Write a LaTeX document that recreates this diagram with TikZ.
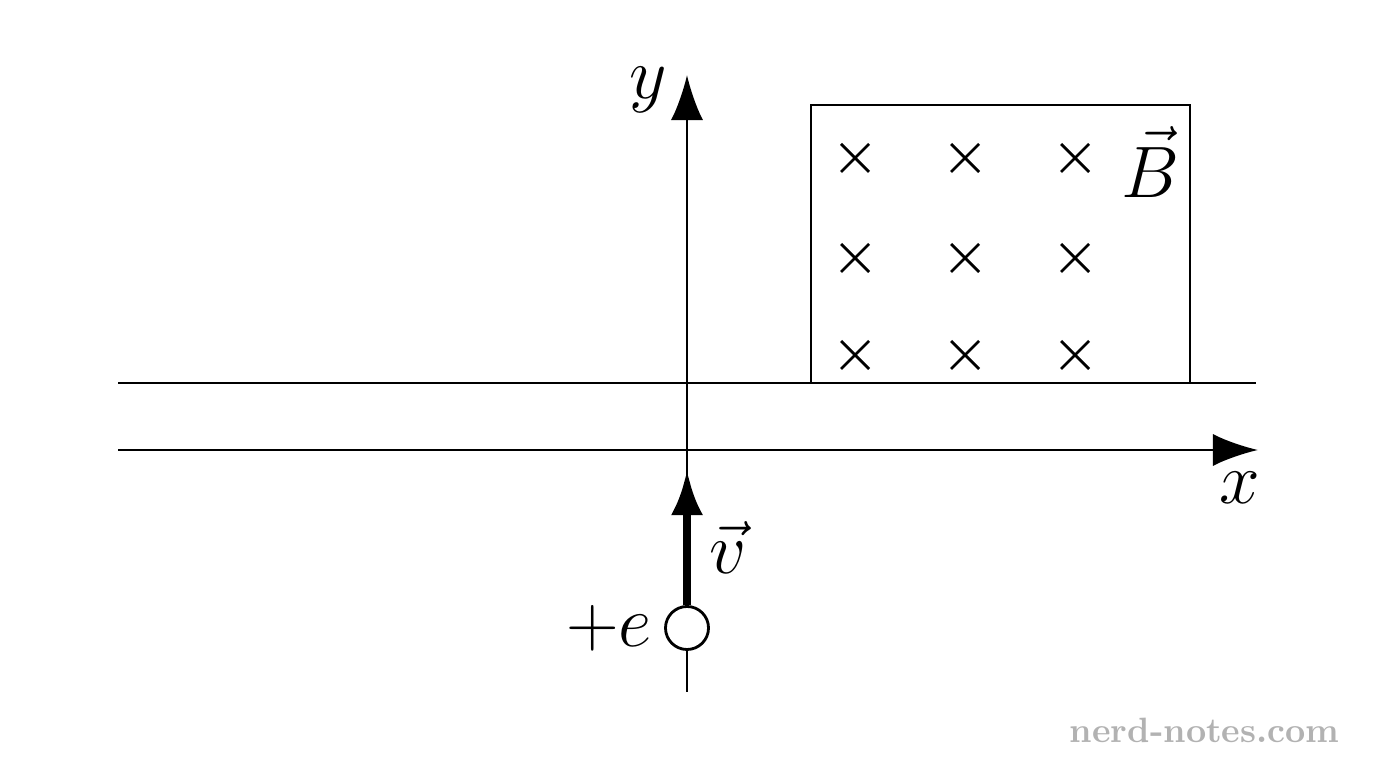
\documentclass[tikz,border=0pt]{standalone}
\usetikzlibrary{arrows.meta}
\tikzset{
  ax/.style={line width=0.8pt, -{Latex[length=0.45cm,width=0.32cm]}},
  lbl/.style={font=\fontsize{22}{26}\selectfont},
  crs/.style={line width=0.8pt}
}
\begin{document}
\begin{tikzpicture}[x=0.01cm,y=-0.01cm]
        \useasboundingbox (0,0) rectangle (1376,768);
        % nodes
        \coordinate (top-l) at (118,383);
        \coordinate (top-r) at (1256,383);
        \coordinate (x-l) at (118,450);
        \coordinate (x-r) at (1258,450);
        \coordinate (y-b) at (687,692);
        \coordinate (y-t) at (687,75);
        \node[lbl] (xlab) at (1240,488) {$x$};
        \node[lbl] (ylab) at (648,90) {$y$};
        \node[draw, circle, line width=0.8pt, minimum size=0.43cm, inner sep=0pt] (q) at (687,628) {};
        \node[lbl, anchor=east] (qlab) at (q.west) {$+e$};
        \coordinate (v-tip) at (687,470);
        \node[lbl] (vlab) at (728,548) {$\vec v$};
        \node[lbl] (blab) at (1150,162) {$\vec B$};
        \node[text=black!30, font=\fontsize{10}{12}\selectfont\bfseries, anchor=east] (mark) at (1352,730) {nerd-notes.com};
        % field region
        \draw[line width=0.8pt] (811,383) |- (1190,105) -- (1190,383);
        \foreach \cx in {855,965,1075}
            \foreach \cy in {158,258,355}
                \draw[crs] (\cx-14,\cy-14) -- (\cx+14,\cy+14) (\cx-14,\cy+14) -- (\cx+14,\cy-14);
        % arrows
        \draw[line width=0.8pt] (top-l) -- (top-r);
        \draw[ax] (x-l) -- (x-r);
        \draw[line width=0.8pt] (y-b) -- (q.south);
        \draw[ax] (q.north) -- (y-t);
        \draw[line width=2.2pt, -{Latex[length=0.45cm,width=0.32cm]}] (q.north) -- (v-tip);
\end{tikzpicture}
\end{document}
